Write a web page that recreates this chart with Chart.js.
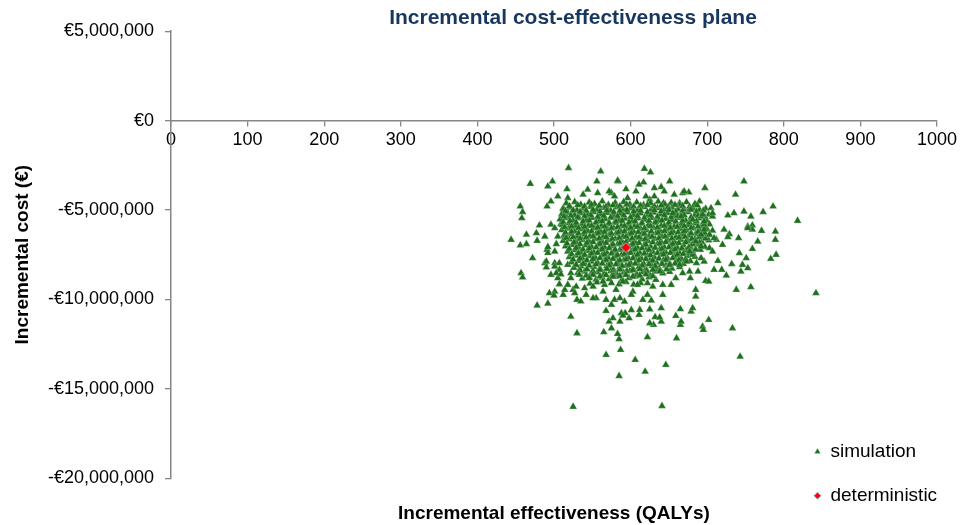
<!DOCTYPE html>
<html>
<head>
<meta charset="utf-8">
<script src="https://cdn.jsdelivr.net/npm/chart.js@4.4.1/dist/chart.umd.min.js"></script>
<style>
  html, body { margin: 0; padding: 0; background: #fff; }
  #wrap { width: 961px; height: 525px; }
</style>
</head>
<body>
<div id="wrap"><canvas id="icer"></canvas></div>
<script>
// values: [QALYs gained, incremental cost in € millions]
const detPoint = [594, -7.1];

const simUpper = [
  [519,-2.65],[469,-3.53],[492,-3.68],[498,-3.40],[561,-2.84],[618,-2.69],[626,-2.89],[556,-3.40],
  [584,-3.40],[617,-3.45],[651,-3.40],[697,-3.77],[748,-3.40],[737,-4.14],[640,-3.71],[644,-3.96],
  [517,-3.83],[544,-3.86],[668,-4.05],[676,-4.01],[594,-3.83],[611,-3.58],[670,-3.96],[657,-4.14],
  [631,-4.24],[625,-4.42],[690,-4.52],[505,-4.24],[518,-4.33],[538,-4.14],[575,-4.05],[583,-3.36],
  [496,-4.52],[557,-4.05],[572,-3.96],[607,-3.96],[631,-3.77],[579,-4.24],[596,-4.33],[620,-4.24],
  [643,-4.61],[664,-4.61],[714,-4.61]
];

const simLeft = [
  [456,-4.80],[459,-5.11],[458,-5.45],[491,-4.80],[481,-5.86],[496,-5.82],[464,-6.38],[444,-6.66],
  [456,-6.98],[464,-6.90],[477,-6.29],[478,-6.72],[488,-6.48],[472,-7.69],[491,-7.22],[492,-7.40],
  [488,-7.97],[490,-8.21],[457,-8.53],[459,-8.77],[503,-6.90],[505,-6.48],[509,-5.78],[514,-5.36],
  [525,-5.08],[512,-4.89],[507,-8.34],[501,-7.97],[496,-8.62],[490,-7.88],[501,-7.32],[501,-6.01],
  [492,-7.07],[505,-8.81],[503,-8.53],[509,-8.59],[501,-8.16],[507,-7.97],[518,-8.06],[522,-8.53],
  [522,-8.81]
];

const simCoreTop = [
  [516,-4.62],[527,-4.55],[535,-4.70],[546,-4.58],[553,-4.66],[563,-4.52],[571,-4.71],[580,-4.60],
  [591,-4.55],[599,-4.68],[608,-4.57],[617,-4.72],[626,-4.61],[636,-4.53],[645,-4.69],[653,-4.60],
  [664,-4.74],[673,-4.56],[684,-4.66],
  [512,-4.95],[521,-4.86],[530,-5.01],[538,-4.90],[548,-4.82],[556,-4.98],[565,-4.88],[574,-5.03],
  [582,-4.85],[590,-4.96],[600,-4.90],[609,-5.02],[618,-4.84],[627,-4.97],[635,-4.89],[644,-5.00],
  [654,-4.86],[662,-4.94],[671,-5.04],[681,-4.88],[690,-4.99],[698,-4.92],
  [510,-5.24],[518,-5.15],[527,-5.30],[536,-5.18],[544,-5.27],[552,-5.12],[561,-5.25],[569,-5.16],
  [578,-5.29],[587,-5.20],[596,-5.13],[604,-5.28],[613,-5.19],[622,-5.31],[630,-5.14],[639,-5.24],
  [648,-5.17],[657,-5.30],[666,-5.21],[675,-5.12],[684,-5.27],[693,-5.18],[702,-5.26],
  [508,-5.52],[517,-5.45],[525,-5.58],[533,-5.47],[542,-5.56],[550,-5.44],[559,-5.60],[567,-5.50],
  [576,-5.42],[585,-5.57],[593,-5.48],[602,-5.61],[610,-5.46],[619,-5.54],[628,-5.43],[637,-5.59],
  [646,-5.49],[654,-5.55],[663,-5.44],[672,-5.60],[680,-5.51],[689,-5.47],[699,-5.57],
  [511,-5.83],[519,-5.75],[528,-5.90],[537,-5.78],[545,-5.86],[554,-5.74],[562,-5.89],[571,-5.80],
  [579,-5.72],[588,-5.88],[597,-5.79],[605,-5.91],[614,-5.76],[623,-5.85],[631,-5.73],[640,-5.88],
  [649,-5.81],[657,-5.92],[666,-5.77],[675,-5.84],[684,-5.74],[693,-5.90],[703,-5.80],
  [510,-6.12],[519,-6.04],[527,-6.19],[536,-6.08],[544,-6.16],[553,-6.03],[561,-6.18],[570,-6.10],
  [578,-6.02],[587,-6.17],[596,-6.07],[604,-6.20],[613,-6.05],[621,-6.14],[630,-6.01],[639,-6.18],
  [647,-6.09],[656,-6.21],[665,-6.06],[673,-6.13],[682,-6.03],[691,-6.19],[700,-6.08],[707,-6.15]
];

const simCoreBottom = [
  [513,-6.43],[521,-6.35],[530,-6.49],[538,-6.38],[547,-6.46],[555,-6.33],[564,-6.48],[572,-6.40],
  [581,-6.32],[590,-6.47],[598,-6.37],[607,-6.50],[615,-6.34],[624,-6.44],[633,-6.31],[641,-6.48],
  [650,-6.39],[659,-6.51],[667,-6.36],[676,-6.43],[685,-6.33],[694,-6.49],[703,-6.40],
  [512,-6.72],[520,-6.64],[529,-6.79],[537,-6.68],[546,-6.76],[554,-6.63],[563,-6.78],[571,-6.70],
  [580,-6.62],[589,-6.77],[597,-6.67],[606,-6.80],[614,-6.64],[623,-6.74],[632,-6.61],[640,-6.78],
  [649,-6.69],[658,-6.81],[666,-6.66],[675,-6.73],[684,-6.63],[693,-6.79],[702,-6.70],
  [515,-7.03],[524,-6.95],[532,-7.09],[541,-6.98],[549,-7.06],[558,-6.93],[566,-7.08],[575,-7.00],
  [583,-6.92],[592,-7.07],[601,-6.97],[609,-7.10],[618,-6.94],[626,-7.04],[635,-6.91],[644,-7.08],
  [652,-6.99],[661,-7.11],[669,-6.96],[678,-7.03],[687,-6.93],[697,-7.07],
  [518,-7.32],[527,-7.24],[535,-7.39],[544,-7.28],[552,-7.36],[561,-7.23],[569,-7.38],[578,-7.30],
  [586,-7.22],[595,-7.37],[603,-7.27],[612,-7.40],[620,-7.24],[629,-7.34],[638,-7.21],[646,-7.38],
  [655,-7.29],[664,-7.41],[672,-7.26],[681,-7.33],[691,-7.23],
  [520,-7.63],[529,-7.55],[537,-7.69],[546,-7.58],[554,-7.66],[563,-7.53],[571,-7.68],[580,-7.60],
  [588,-7.52],[597,-7.67],[605,-7.57],[614,-7.70],[622,-7.54],[631,-7.64],[640,-7.51],[648,-7.68],
  [657,-7.59],[666,-7.71],[674,-7.56],[684,-7.62],
  [523,-7.92],[532,-7.84],[540,-7.99],[549,-7.88],[557,-7.96],[566,-7.83],[574,-7.98],[583,-7.90],
  [591,-7.82],[600,-7.97],[608,-7.87],[617,-8.00],[625,-7.84],[634,-7.94],[643,-7.81],[651,-7.98],
  [660,-7.89],[669,-8.01],[678,-7.86],
  [526,-8.23],[535,-8.15],[543,-8.29],[552,-8.18],[560,-8.26],[569,-8.13],[577,-8.28],[586,-8.20],
  [594,-8.12],[603,-8.27],[611,-8.17],[620,-8.30],[628,-8.14],[637,-8.24],[646,-8.11],[654,-8.28],
  [664,-8.19],
  [531,-8.52],[540,-8.44],[548,-8.59],[557,-8.48],[565,-8.56],[574,-8.43],[582,-8.58],[591,-8.50],
  [599,-8.42],[608,-8.57],[616,-8.47],[625,-8.60],[633,-8.44],[642,-8.54],[651,-8.46],
  [537,-8.83],[546,-8.75],[555,-8.89],[563,-8.78],[572,-8.86],[580,-8.73],[589,-8.88],[598,-8.80],
  [606,-8.72],[615,-8.87],[624,-8.77],[633,-8.90],
  [547,-9.12],[556,-9.05],[566,-9.18],[575,-9.08],[585,-9.15],[594,-9.03],[604,-9.17],[613,-9.09]
];

// second layer of the dense centre, sitting between the rows above
const simCoreFill = [
  [520,-4.78],[531,-4.73],[540,-4.80],[549,-4.71],[559,-4.77],[568,-4.82],[577,-4.74],[586,-4.79],
  [595,-4.70],[604,-4.81],[613,-4.76],[622,-4.72],[631,-4.80],[640,-4.75],[649,-4.83],[658,-4.71],
  [668,-4.78],[677,-4.81],[687,-4.74],
  [515,-5.07],[525,-5.02],[534,-5.10],[542,-5.04],[551,-4.99],[560,-5.08],[569,-5.03],[578,-5.11],
  [586,-5.05],[595,-4.99],[604,-5.09],[613,-5.04],[622,-5.12],[631,-5.02],[640,-5.07],[650,-5.00],
  [659,-5.10],[668,-5.05],[677,-4.99],[686,-5.09],[695,-5.03],
  [513,-5.37],[522,-5.32],[531,-5.41],[540,-5.34],[548,-5.29],[557,-5.39],[565,-5.33],[574,-5.42],
  [583,-5.36],[591,-5.30],[600,-5.40],[609,-5.34],[618,-5.43],[626,-5.31],[635,-5.38],[644,-5.29],
  [653,-5.40],[661,-5.35],[670,-5.30],[679,-5.41],[688,-5.33],[697,-5.38],
  [512,-5.68],[521,-5.62],[529,-5.71],[538,-5.64],[546,-5.59],[555,-5.69],[563,-5.63],[572,-5.72],
  [581,-5.66],[589,-5.60],[598,-5.70],[606,-5.64],[615,-5.73],[624,-5.61],[633,-5.68],[641,-5.59],
  [650,-5.70],[659,-5.65],[668,-5.60],[677,-5.71],[686,-5.63],[695,-5.69],
  [514,-5.97],[523,-5.92],[532,-6.01],[540,-5.94],[549,-5.89],[557,-5.99],[566,-5.93],[575,-6.02],
  [583,-5.96],[592,-5.90],[600,-6.00],[609,-5.94],[618,-6.03],[626,-5.91],[635,-5.98],[644,-5.89],
  [652,-6.00],[661,-5.95],[670,-5.90],[679,-6.01],[688,-5.93],[697,-5.99],
  [515,-6.27],[523,-6.22],[532,-6.31],[540,-6.24],[549,-6.19],[558,-6.29],[566,-6.23],[575,-6.32],
  [584,-6.26],[592,-6.20],[601,-6.30],[610,-6.24],[618,-6.33],[627,-6.21],[636,-6.28],[644,-6.19],
  [653,-6.30],[662,-6.25],[670,-6.20],[679,-6.31],[688,-6.23],[697,-6.29],
  [516,-6.57],[525,-6.52],[534,-6.61],[542,-6.54],[551,-6.49],[559,-6.59],[568,-6.53],[576,-6.62],
  [585,-6.56],[594,-6.50],[602,-6.60],[611,-6.54],[619,-6.63],[628,-6.51],[637,-6.58],[645,-6.49],
  [654,-6.60],[663,-6.55],[671,-6.50],[680,-6.61],[689,-6.53],[698,-6.59],
  [517,-6.87],[526,-6.82],[534,-6.91],[543,-6.84],[551,-6.79],[560,-6.89],[568,-6.83],[577,-6.92],
  [586,-6.86],[594,-6.80],[603,-6.90],[611,-6.84],[620,-6.93],[629,-6.81],[638,-6.88],[646,-6.79],
  [655,-6.90],[663,-6.85],[672,-6.80],[681,-6.91],[690,-6.83],
  [520,-7.17],[529,-7.12],[538,-7.21],[546,-7.14],[555,-7.09],[563,-7.19],[572,-7.13],[580,-7.22],
  [589,-7.16],[598,-7.10],[606,-7.20],[615,-7.14],[624,-7.23],[632,-7.11],[641,-7.18],[650,-7.09],
  [658,-7.20],[667,-7.15],[676,-7.10],[685,-7.21],
  [523,-7.47],[532,-7.42],[540,-7.51],[549,-7.44],[557,-7.39],[566,-7.49],[575,-7.43],[583,-7.52],
  [592,-7.46],[600,-7.40],[609,-7.50],[618,-7.44],[626,-7.53],[635,-7.41],[643,-7.48],[652,-7.39],
  [661,-7.50],[669,-7.45],[678,-7.40],
  [525,-7.77],[534,-7.72],[543,-7.81],[551,-7.74],[560,-7.69],[568,-7.79],[577,-7.73],[586,-7.82],
  [594,-7.76],[603,-7.70],[611,-7.80],[620,-7.74],[629,-7.83],[637,-7.71],[646,-7.78],[655,-7.69],
  [663,-7.80],[672,-7.75],
  [529,-8.07],[538,-8.02],[546,-8.11],[555,-8.04],[563,-7.99],[572,-8.09],[581,-8.03],[589,-8.12],
  [598,-8.06],[606,-8.00],[615,-8.10],[624,-8.04],[632,-8.13],[641,-8.01],[650,-8.08],[658,-7.99],
  [534,-8.37],[543,-8.32],[551,-8.41],[560,-8.34],[569,-8.29],[577,-8.39],[586,-8.33],[595,-8.42],
  [603,-8.36],[612,-8.30],[621,-8.40],[629,-8.34],[638,-8.43],[647,-8.31],
  [542,-8.67],[551,-8.62],[560,-8.71],[568,-8.64],[577,-8.59],[586,-8.69],[594,-8.63],[603,-8.72],
  [612,-8.66],[620,-8.60],[629,-8.70]
];

const simRight = [
  [786,-4.80],[773,-5.11],[818,-5.60],[748,-5.08],[757,-5.36],[727,-5.30],[735,-5.17],[789,-6.20],
  [789,-6.66],[790,-7.50],[783,-7.73],[771,-6.16],[766,-6.76],[759,-7.17],[759,-5.86],[753,-5.92],
  [741,-6.57],[729,-6.35],[722,-6.10],[720,-6.94],[712,-6.66],[703,-6.38],[742,-7.41],[751,-7.69],
  [746,-8.06],[714,-7.84],[732,-8.02],[719,-8.34],[744,-8.44],[753,-8.25],[725,-8.66],[698,-8.96],
  [709,-8.34],[696,-7.88],[678,-8.81],[681,-7.50],[685,-6.76],[692,-6.38],[696,-5.82],[707,-5.36],
  [705,-4.89],[679,-4.98],[692,-5.36],[681,-5.54],[666,-5.36],[655,-5.17],[707,-5.17],[694,-5.26],
  [759,-6.10],[753,-6.01],[727,-6.51],[709,-6.57],[696,-5.64],[696,-6.10],[703,-7.13],[692,-7.04],
  [692,-7.69],[688,-8.44],[677,-8.44],[668,-8.53],[659,-8.81],[651,-8.06],[664,-8.06],[673,-7.88],
  [677,-7.32],[686,-7.97],[707,-7.32]
];

const simLower = [
  [478,-10.34],[492,-10.23],[494,-9.65],[501,-9.56],[500,-9.78],[512,-9.74],[514,-9.46],[522,-10.96],
  [507,-9.15],[518,-9.18],[525,-9.46],[530,-10.02],[527,-9.65],[530,-11.89],[525,-16.00],[641,-15.96],
  [585,-14.28],[619,-14.04],[606,-13.38],[646,-13.66],[568,-13.10],[587,-12.82],[585,-12.22],[583,-11.93],
  [565,-11.83],[575,-11.61],[572,-11.24],[586,-11.24],[577,-11.05],[568,-10.64],[622,-12.11],[660,-12.17],
  [630,-11.42],[640,-11.24],[632,-10.99],[638,-11.01],[598,-11.05],[611,-10.86],[588,-10.77],[601,-10.59],
  [593,-10.77],[612,-10.58],[625,-10.55],[640,-10.49],[665,-11.42],[666,-11.24],[659,-10.92],[665,-10.54],
  [679,-10.68],[681,-10.49],[694,-11.52],[695,-11.70],[702,-11.14],[733,-11.61],[743,-13.20],[738,-9.46],
  [757,-9.31],[842,-9.65],[685,-9.46],[685,-9.84],[702,-9.00],[653,-9.18],[642,-9.74],[622,-9.74],
  [616,-10.02],[627,-10.06],[592,-10.12],[579,-10.02],[575,-10.30],[555,-9.93],[542,-9.74],[535,-10.11],
  [529,-9.28],[551,-9.28],[564,-9.56],[581,-9.46],[603,-9.56],[629,-9.28],[540,-9.37],[551,-9.93],
  [590,-10.90],[625,-11.33],[642,-9.18],[601,-9.74],[586,-9.93],[568,-10.02],[533,-8.62],[546,-8.81],
  [564,-9.00],[577,-8.72],[590,-9.00],[609,-9.18],[622,-9.09]
];

const effectTicks = [0, 100, 200, 300, 400, 500, 600, 700, 800, 900, 1000];
const costTicks = [5000000, 0, -5000000, -10000000, -15000000, -20000000];

Chart.defaults.font.family = '"Liberation Sans", Arial, sans-serif';
Chart.defaults.color = '#000';

const toXY = p => ({ x: p[0], y: p[1] * 1e6 });
const simPoints = [].concat(simUpper, simLeft, simCoreTop, simCoreBottom, simCoreFill, simRight, simLower).map(toXY);

// legend sits inside the plot, bottom right; title a little right of centre
const placeBoxes = {
  id: 'placeBoxes',
  afterLayout(chart) {
    const area = chart.chartArea;
    const lg = chart.legend;
    lg.left = area.right - 148;
    lg.right = lg.left + lg.width;
    lg.top = area.bottom - 61;
    lg.bottom = lg.top + lg.height;
    chart.titleBlock.left += 19;
    chart.titleBlock.right += 19;
  }
};

const axisGrey = '#868686';

new Chart(document.getElementById('icer'), {
  type: 'scatter',
  data: {
    datasets: [
      {
        label: 'simulation',
        data: simPoints,
        pointStyle: 'triangle',
        pointRadius: 4.4,
        pointHoverRadius: 4.4,
        backgroundColor: '#1e701e',
        borderColor: 'rgba(200,225,200,0.6)',
        borderWidth: 0.5,
        order: 1
      },
      {
        label: 'deterministic',
        data: [toXY(detPoint)],
        pointStyle: 'rectRot',
        pointRadius: 5,
        pointHoverRadius: 5,
        backgroundColor: '#ff0000',
        borderColor: '#8fb4e3',
        borderWidth: 1,
        order: 0
      }
    ]
  },
  options: {
    responsive: true,
    maintainAspectRatio: false,
    animation: false,
    layout: { padding: { left: 7, right: 23, top: 0, bottom: 0 } },
    scales: {
      x: {
        type: 'linear',
        position: { y: 0 },
        min: 0,
        max: 1000,
        afterBuildTicks: s => { s.ticks = effectTicks.map(v => ({ value: v })); },
        grid: { drawOnChartArea: false, drawTicks: true, tickLength: 5, color: axisGrey, lineWidth: 1.3 },
        border: { display: true, color: axisGrey, width: 1.5 },
        ticks: { color: '#000', font: { size: 18 }, padding: 4, maxRotation: 0, autoSkip: false, callback: v => String(v) }
      },
      y: {
        type: 'linear',
        min: -20000000,
        max: 5000000,
        afterBuildTicks: s => { s.ticks = costTicks.map(v => ({ value: v })); },
        afterFit: s => { s.width = 164; },
        grid: { drawOnChartArea: false, drawTicks: true, tickLength: 6, color: axisGrey, lineWidth: 1.3 },
        border: { display: true, color: axisGrey, width: 1.5 },
        ticks: {
          color: '#000',
          font: { size: 18 },
          padding: 11,
          callback: v => (v < 0 ? '-€' : '€') + Math.abs(v).toLocaleString('en-US')
        },
        title: {
          display: true,
          text: 'Incremental cost (€)',
          color: '#000',
          font: { size: 19, weight: 'bold' },
          padding: { top: 4, bottom: 4 }
        }
      }
    },
    plugins: {
      title: {
        display: true,
        fullSize: false,
        text: 'Incremental cost-effectiveness plane',
        color: '#17375e',
        font: { size: 21, weight: 'bold' },
        padding: { top: 6, bottom: 0 }
      },
      subtitle: {
        display: true,
        position: 'bottom',
        fullSize: false,
        text: 'Incremental effectiveness (QALYs)',
        color: '#000',
        font: { size: 19, weight: 'bold' },
        padding: { top: 24, bottom: 0 }
      },
      legend: {
        position: 'chartArea',
        align: 'start',
        labels: {
          usePointStyle: true,
          pointStyleWidth: 7,
          boxHeight: 5,
          padding: 25,
          color: '#000',
          font: { size: 19 },
          sort: (a, b) => a.datasetIndex - b.datasetIndex
        }
      },
      tooltip: { enabled: false }
    }
  },
  plugins: [placeBoxes]
});
</script>
</body>
</html>
